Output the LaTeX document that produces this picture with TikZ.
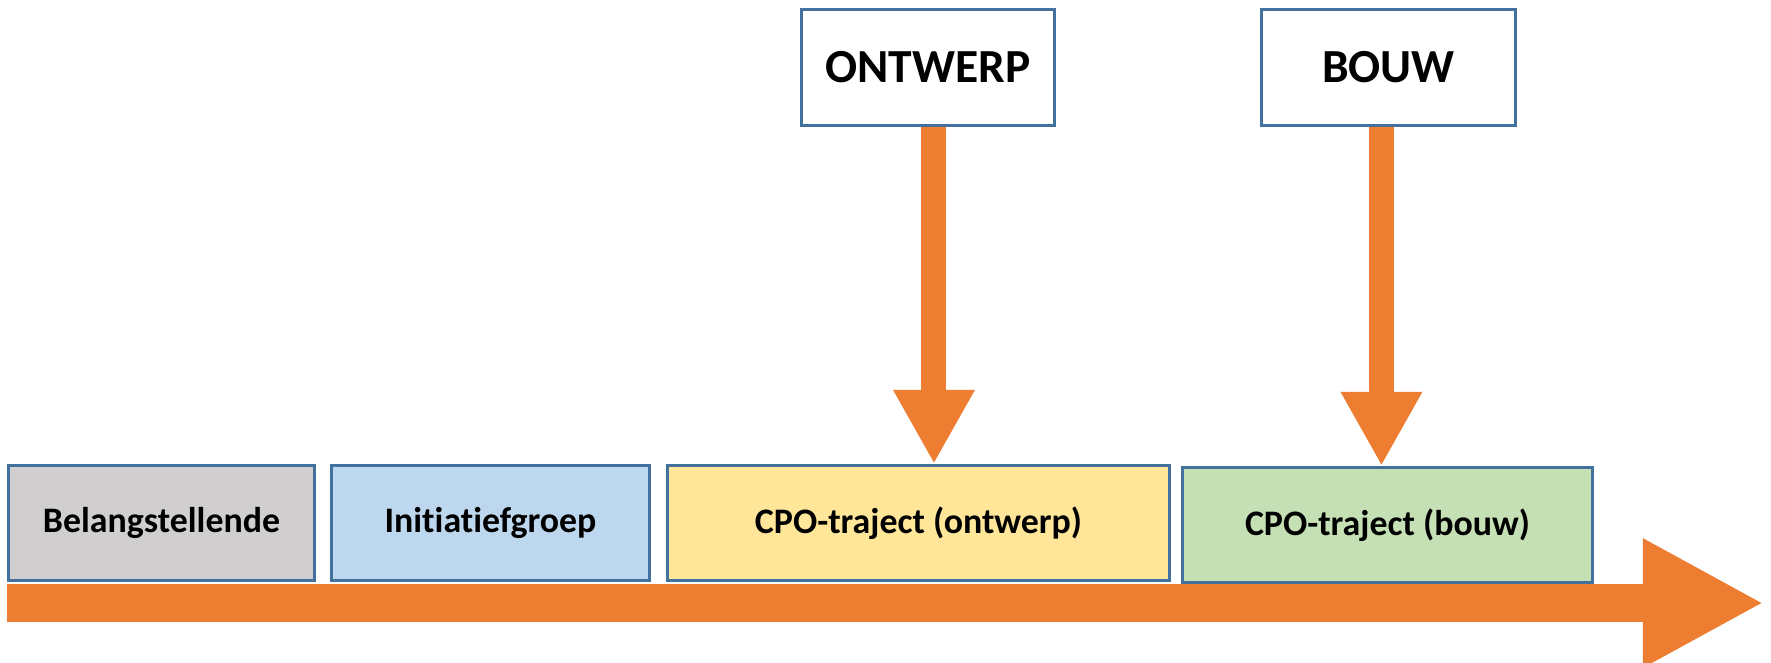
\documentclass[tikz,border=0pt]{standalone}
\usepackage{fontspec}
\setmainfont{Carlito}[Ligatures=NoCommon]
\usepackage{tikz}
\usetikzlibrary{arrows.meta,positioning}

\definecolor{boxline}{HTML}{41719C}
\definecolor{pijl}{HTML}{ED7D31}
\definecolor{grijs}{HTML}{D0CECE}
\definecolor{lichtblauw}{HTML}{BDD7EE}
\definecolor{geel}{HTML}{FFE699}
\definecolor{groen}{HTML}{C5E0B4}

\begin{document}
\begin{tikzpicture}[x=0.01cm,y=-0.01cm,
   fase/.style={draw=boxline, line width=0.8pt, anchor=north west, minimum height=1.15cm,
                font=\fontsize{10.2}{12}\selectfont\bfseries, inner sep=0pt},
   mijlpaal/.style={draw=boxline, line width=0.8pt, fill=white, anchor=north west,
                minimum width=2.53cm, minimum height=1.16cm, font=\fontsize{13.5}{16}\selectfont\bfseries},
   dikpijl/.style={pijl, line width=0.25cm, -{Triangle[width=0.76cm,length=0.74cm]}}]
   \useasboundingbox (0,0) rectangle (1771,663);

   \node[fase, fill=grijs, minimum width=3.06cm] (belang) at (7,464) {Belangstellende};
   \node[fase, fill=lichtblauw, minimum width=3.18cm] (initiatief) at (330,464) {Initiatiefgroep};
   \node[fase, fill=geel, minimum width=5.02cm] (cpoontwerp) at (666,464) {CPO-traject (ontwerp)};
   \node[fase, fill=groen, minimum width=4.10cm] (cpobouw) at (1181,466) {CPO-traject (bouw)};

   \node[mijlpaal] (ontwerp) at (800,8) {ONTWERP};
   \node[mijlpaal, minimum width=2.54cm] (bouw) at (1260,8) {BOUW};

   % tijdlijn
   \coordinate (start) at (7,603);
   \coordinate (eind) at (1764,603);
   \draw[pijl, line width=0.38cm, -{Triangle[width=1.2cm,length=1.21cm]}] (start) -- (eind);

   \draw[dikpijl] ([xshift=0.06cm]ontwerp.south) -- ([xshift=0.06cm]ontwerp.south |- cpoontwerp.north);
   \draw[dikpijl] ([xshift=-0.07cm]bouw.south) -- ([xshift=-0.07cm]bouw.south |- cpobouw.north);
\end{tikzpicture}
\end{document}
